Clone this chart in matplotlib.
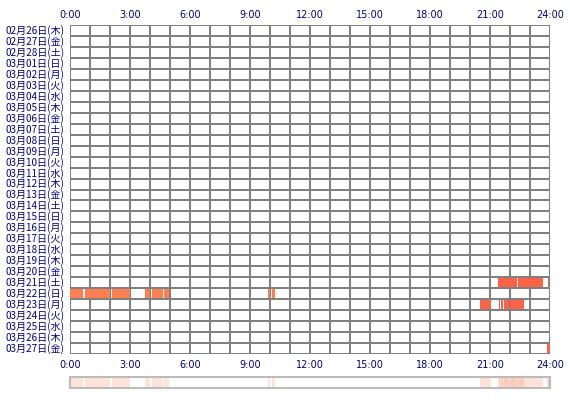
import matplotlib.pyplot as plt

plt.rcParams['font.family'] = ['Noto Sans CJK JP', 'DejaVu Sans']

# row labels (one per day)
days = ["02月26日(木)", "02月27日(金)", "02月28日(土)",
        "03月01日(日)", "03月02日(月)", "03月03日(火)", "03月04日(水)",
        "03月05日(木)", "03月06日(金)", "03月07日(土)", "03月08日(日)",
        "03月09日(月)", "03月10日(火)", "03月11日(水)", "03月12日(木)",
        "03月13日(金)", "03月14日(土)", "03月15日(日)", "03月16日(月)",
        "03月17日(火)", "03月18日(水)", "03月19日(木)", "03月20日(金)",
        "03月21日(土)", "03月22日(日)", "03月23日(月)", "03月24日(火)",
        "03月25日(水)", "03月26日(木)", "03月27日(金)"]

hour_ticks = [0, 3, 6, 9, 12, 15, 18, 21, 24]
hour_labels = ["0:00", "3:00", "6:00", "9:00", "12:00", "15:00", "18:00", "21:00", "24:00"]

# active periods per day: (start hour, end hour)
sessions_0321 = [(21.4, 22.35), (22.4, 23.63), (23.88, 23.95)]
sessions_0322 = [(0.0, 0.65), (0.75, 2.0), (2.1, 3.0), (3.75, 4.0), (4.1, 4.65),
                 (4.72, 4.95), (9.9, 10.0), (10.08, 10.25)]
sessions_0323 = [(20.5, 21.07), (21.45, 21.52), (21.57, 21.67), (21.72, 21.95), (22.0, 22.7)]
sessions_0327 = [(23.85, 24.0)]

activity = {
    "03月21日(土)": (sessions_0321, "#ff6347"),
    "03月22日(日)": (sessions_0322, "#ff7f50"),
    "03月23日(月)": (sessions_0323, "#ff6347"),
    "03月27日(金)": (sessions_0327, "#ff6347"),
}

W, H = 570, 400
fig = plt.figure(figsize=(W / 100, H / 100), dpi=100)
fig.patch.set_facecolor('white')

ax = fig.add_axes([70 / W, 1 - 354 / H, 480 / W, 329 / H])
grid_color = '#808080'
n = len(days)

ax.set_xlim(0, 24)
ax.set_ylim(n, 0)

for h in range(25):
    ax.axvline(h, color=grid_color, lw=1.44, antialiased=False, zorder=1)

for day, (spans, col) in activity.items():
    i = days.index(day)
    ax.broken_barh([(s, e - s) for s, e in spans], (i, 1), facecolor=col,
                   edgecolor='none', antialiased=False, zorder=2)

for r in range(n + 1):
    ax.axhline(r, color=grid_color, lw=1.44, antialiased=False, zorder=3)

for s in ax.spines.values():
    s.set_visible(False)
ax.set_xticks([])
ax.set_yticks([])

navy = '#000080'
for i, d in enumerate(days):
    ax.text(-0.28, i + 0.5, d, ha='right', va='center', fontsize=7.2, color=navy)

for t, lab in zip(hour_ticks, hour_labels):
    fig.text((70 + t * 20) / W, 1 - 15 / H, lab, ha='center', va='center',
             fontsize=7, color=navy, family='DejaVu Sans')
    fig.text((70 + t * 20) / W, 1 - 365 / H, lab, ha='center', va='center',
             fontsize=7, color=navy, family='DejaVu Sans')

# summary strip under the chart
ax2 = fig.add_axes([70 / W, 1 - 388 / H, 480 / W, 11 / H])
ax2.set_xlim(0, 24)
ax2.set_ylim(0, 1)
for day, (spans, col) in activity.items():
    ax2.broken_barh([(s, e - s) for s, e in spans], (0, 1), facecolor='#ff7f50',
                    alpha=0.22, edgecolor='none')
ax2.set_xticks([])
ax2.set_yticks([])
for s in ax2.spines.values():
    s.set_color('#bbbbbb')
    s.set_linewidth(1.5)

fig.savefig('out.png', dpi=100)
